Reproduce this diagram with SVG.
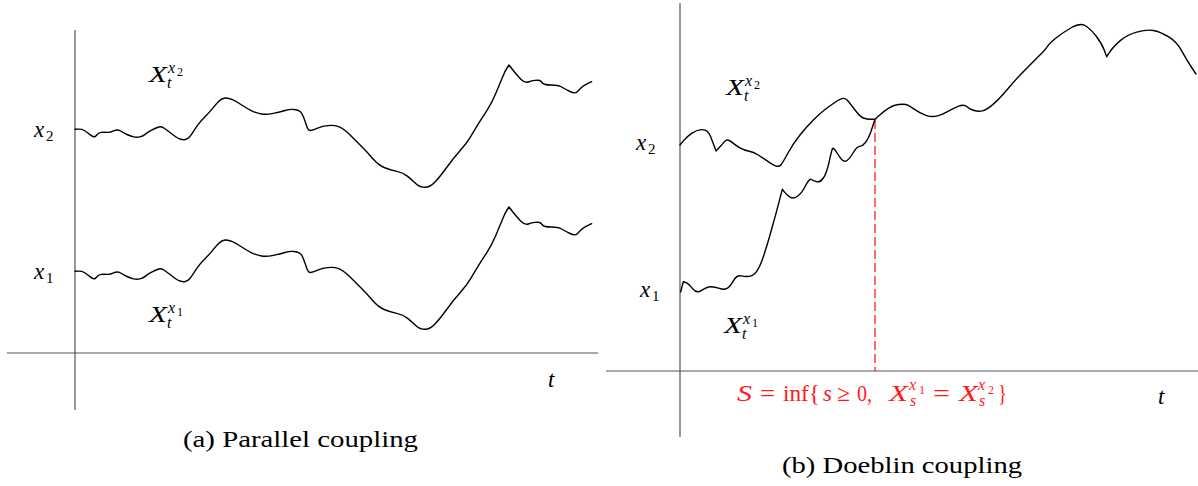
<svg xmlns="http://www.w3.org/2000/svg" width="1198" height="486" viewBox="0 0 1198 486">
<style>
.ax{stroke:#555;stroke-width:1.2;fill:none}
.path{stroke:#000;stroke-width:1.4;fill:none;stroke-linejoin:round;stroke-linecap:round}
text{font-family:'Liberation Serif','Times New Roman',serif;fill:#000}
.m{font-style:italic;font-size:23px}
.s{font-style:italic;font-size:16px}
.d{font-size:15px}
.dd{font-size:12px}
.r{font-size:23px}
.red text{fill:#ff1a1a}
</style>
<rect width="1198" height="486" fill="#fff"/>
<g id="panel-a">
  <line class="ax" x1="75" y1="30" x2="75" y2="410"/>
  <line class="ax" x1="7" y1="353" x2="598" y2="353"/>
  <path id="path-a2" class="path" d="M75,129.3 L78.35,129.15 Q81.7,129 84.35,130.5 Q87,132 90.65,135.15 Q94.3,138.3 96.3,135.5 Q98.3,132.7 101.15,132.35 Q104,132 107,132.35 Q110,132.7 113.65,130.85 Q117.3,129 120.65,131 Q124,133 127,134.5 Q130,136 133.35,136.85 Q136.7,137.7 140,136.85 Q143.3,136 145.8,133.85 Q148.3,131.7 151.65,130.1 Q155,128.5 158,127.25 Q161,126 163.85,128 Q166.7,130 170,132.5 Q173.3,135 175.65,136.75 Q178,138.5 180.65,139.25 Q183.3,140 185.15,139.5 Q187,139 188.5,137.85 Q190,136.7 192.5,132.85 Q195,129 197.5,125.35 Q200,121.7 205,116.7 Q210,111.7 213,107.85 Q216,104 218.85,101.15 Q221.7,98.3 225,98 Q228.3,97.7 232.5,99.7 Q236.7,101.7 241.7,105 Q246.7,108.3 251.7,110.8 Q256.7,113.3 261.7,114 Q266.7,114.7 273.35,113.35 Q280,112 285,110.5 Q290,109 294.15,109.5 Q298.3,110 300.15,111.5 Q302,113 303.5,117 Q305,121 306.65,126 Q308.3,131 310.8,130.5 Q313.3,130 318.3,127.85 Q323.3,125.7 331.65,125.35 Q340,125 348.35,133.35 Q356.7,141.7 361.85,146.85 Q367,152 372.65,158.5 Q378.3,165 384.15,167.5 Q390,170 396.65,171.35 Q403.3,172.7 407.65,176.35 Q412,180 416,183.65 Q420,187.3 425,187.3 Q430,187.3 435,182 Q440,176.7 446.65,167.5 Q453.3,158.3 460,150.8 Q466.7,143.3 470.35,137.15 Q474,131 477.85,124.65 Q481.7,118.3 486.7,110.8 Q491.7,103.3 495.85,93.3 Q500,83.3 502.5,77.15 Q505,71 507,68 L509,65 L512.85,70 Q516.7,75 520.85,79.15 Q525,83.3 528.35,82 Q531.7,80.7 535,80.35 Q538.3,80 539.65,80.5 Q541,81 542.5,83 Q544,85 551.15,85 Q558.3,85 561.65,87 Q565,89 570,91.5 Q575,94 577,92 Q579,90 581.15,87.85 Q583.3,85.7 587.5,83.7 L591.7,81.7"/>
  <use id="path-a1" href="#path-a2" transform="translate(0,142)"/>
  <text class="m" x="34" y="137">x</text><text class="d" x="46" y="141">2</text>
  <text class="m" x="34" y="279">x</text><text class="d" x="46" y="283">1</text>
  <text class="m" x="149" y="82" textLength="18" lengthAdjust="spacingAndGlyphs">X</text><text class="s" x="167" y="88">t</text><text class="s" x="168" y="73">x</text><text class="dd" x="177" y="76">2</text>
  <text class="m" x="149" y="322" textLength="18" lengthAdjust="spacingAndGlyphs">X</text><text class="s" x="167" y="328">t</text><text class="s" x="168" y="313">x</text><text class="dd" x="177" y="316">1</text>
  <text class="m" x="548" y="387">t</text>
  <text class="r" x="183" y="447" textLength="235" lengthAdjust="spacingAndGlyphs">(a) Parallel coupling</text>
</g>
<g id="panel-b">
  <line class="ax" x1="680" y1="3" x2="680" y2="437"/>
  <line class="ax" x1="606" y1="371" x2="1198" y2="371"/>
  <line x1="875" y1="120" x2="875" y2="371" stroke="#ff1a1a" stroke-width="1.3" stroke-dasharray="9 4"/>
  <path id="path-b2" class="path" d="M680,145 L683.35,140.85 Q686.7,136.7 691.7,133.35 Q696.7,130 700.85,129.65 Q705,129.3 707.15,131.3 Q709.3,133.3 710.65,136.65 Q712,140 714,145.5 L716,151 L718.85,148 Q721.7,145 724.5,141.65 Q727.3,138.3 731.15,141.65 Q735,145 740,147.85 Q745,150.7 749.15,151.2 Q753.3,151.7 758.3,155 Q763.3,158.3 770.8,163.3 Q778.3,168.3 780.8,165 Q783.3,161.7 788.3,152.5 Q793.3,143.3 800,135 Q806.7,126.7 813.35,120 Q820,113.3 826.65,108.3 Q833.3,103.3 838.65,100 Q844,96.7 847,100 Q850,103.3 855,110 Q860,116.7 863.35,118 Q866.7,119.3 870.85,119.3 L875,119.3 L879.15,115.5 Q883.3,111.7 888.3,108.35 Q893.3,105 898.3,104.5 Q903.3,104 905.8,104.5 Q908.3,105 914.15,109.15 Q920,113.3 925.85,115.3 Q931.7,117.3 936.7,116.15 Q941.7,115 947.5,111.65 Q953.3,108.3 958.65,106.15 Q964,104 967,106.65 Q970,109.3 974.15,110.5 Q978.3,111.7 982.5,110.85 Q986.7,110 993.35,104.15 Q1000,98.3 1008.35,88.3 Q1016.7,78.3 1025,70 Q1033.3,61.7 1039.15,55.85 Q1045,50 1047.5,46.35 Q1050,42.7 1056.65,37.5 Q1063.3,32.3 1071.65,27.5 Q1080,22.7 1085,25.5 Q1090,28.3 1095.85,35.8 Q1101.7,43.3 1104.2,50 L1106.7,56.7 L1110,51.7 Q1113.3,46.7 1120,40.85 Q1126.7,35 1136.7,32.15 Q1146.7,29.3 1153.35,30.5 Q1160,31.7 1168.35,36.7 Q1176.7,41.7 1181.7,50.85 Q1186.7,60 1191.35,67 L1196,74"/>
  <path id="path-b1" class="path" d="M680.7,291.7 L683.3,281.7 L685.8,282.5 Q688.3,283.3 692.5,288.65 Q696.7,294 701.7,290.35 Q706.7,286.7 710.85,286.7 Q715,286.7 719.5,288.35 Q724,290 727,288.35 Q730,286.7 733.35,280.85 Q736.7,275 740.85,275.85 Q745,276.7 749.15,276.35 Q753.3,276 756.65,271.35 Q760,266.7 763.35,256.7 Q766.7,246.7 770,235 Q773.3,223.3 775.8,214.15 Q778.3,205 780.3,197.15 L782.3,189.3 L784.5,192.15 Q786.7,195 790,197.15 Q793.3,199.3 797.5,196.3 Q801.7,193.3 805.5,185.8 Q809.3,178.3 811.3,179.5 Q813.3,180.7 816.65,181.7 Q820,182.7 823.35,178 Q826.7,173.3 829.2,161.65 Q831.7,150 832.5,148.65 Q833.3,147.3 835.8,151.15 Q838.3,155 841.15,158.85 Q844,162.7 847,160.5 Q850,158.3 853.35,152.5 Q856.7,146.7 859.7,146.35 Q862.7,146 865.5,142.5 Q868.3,139 870.8,132 L875,119.3"/>
  <text class="m" x="636" y="150">x</text><text class="d" x="648" y="154">2</text>
  <text class="m" x="640" y="297">x</text><text class="d" x="652" y="301">1</text>
  <text class="m" x="726" y="95" textLength="18" lengthAdjust="spacingAndGlyphs">X</text><text class="s" x="744" y="101">t</text><text class="s" x="745" y="86">x</text><text class="dd" x="754" y="89">2</text>
  <text class="m" x="724" y="333" textLength="18" lengthAdjust="spacingAndGlyphs">X</text><text class="s" x="742" y="339">t</text><text class="s" x="743" y="324">x</text><text class="dd" x="752" y="327">1</text>
  <text class="m" x="1158" y="404">t</text>
  <g class="red">
    <text class="m" x="737" y="401" textLength="15" lengthAdjust="spacingAndGlyphs">S</text>
    <text class="r" x="760" y="401" textLength="15" lengthAdjust="spacingAndGlyphs">=</text>
    <text class="r" x="783" y="401" textLength="37" lengthAdjust="spacingAndGlyphs">inf{</text>
    <text class="m" x="823" y="401">s</text>
    <text class="r" x="837" y="401" textLength="13" lengthAdjust="spacingAndGlyphs">≥</text>
    <text class="r" x="857" y="401" textLength="15" lengthAdjust="spacingAndGlyphs">0,</text>
    <text class="m" x="889" y="401" textLength="19" lengthAdjust="spacingAndGlyphs">X</text>
    <text class="s" x="909" y="390">x</text><text class="dd" x="919" y="394">1</text>
    <text class="s" x="910" y="406">s</text>
    <text class="r" x="933" y="401" textLength="17" lengthAdjust="spacingAndGlyphs">=</text>
    <text class="m" x="959" y="401" textLength="19" lengthAdjust="spacingAndGlyphs">X</text>
    <text class="s" x="978" y="390">x</text><text class="dd" x="988" y="394">2</text>
    <text class="s" x="979" y="406">s</text>
    <text class="r" x="998" y="401" textLength="9" lengthAdjust="spacingAndGlyphs">}</text>
  </g>
  <text class="r" x="782" y="473" textLength="240" lengthAdjust="spacingAndGlyphs">(b) Doeblin coupling</text>
</g>
</svg>
